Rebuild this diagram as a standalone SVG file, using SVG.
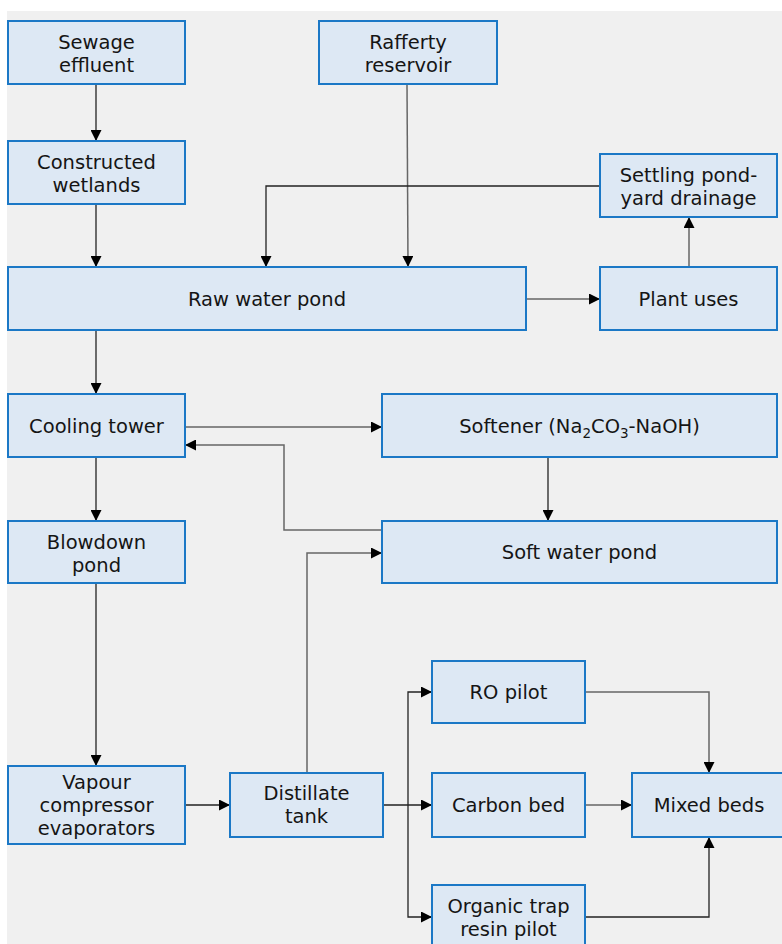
<svg xmlns="http://www.w3.org/2000/svg" width="782" height="944" viewBox="0 0 782 944">
<style>
.box{fill:#dde8f4;stroke:#1b78c6;stroke-width:2}
.t{font-family:"DejaVu Sans",Verdana,sans-serif;font-size:19.5px;fill:#151515;text-anchor:middle}
.c{fill:none;stroke:#222;stroke-width:1.3}
.g{fill:none;stroke:#666;stroke-width:1.5}
</style>
<defs>
<marker id="ah" viewBox="0 0 10 10" refX="10" refY="5" markerWidth="11" markerHeight="11" markerUnits="userSpaceOnUse" orient="auto">
<path d="M0,0 L10,5 L0,10 Z" fill="#000"/>
</marker>
</defs>
<rect x="0" y="0" width="782" height="944" fill="#ffffff"/>
<rect x="7" y="11" width="775" height="933" fill="#f0f0f0"/>

<g id="connectors">
<path class="c" d="M96,84 V141" marker-end="url(#ah)"/>
<path class="c" d="M96,204 V267" marker-end="url(#ah)"/>
<path class="g" d="M407,84 L408,267" marker-end="url(#ah)"/>
<path class="c" d="M600,186 H266 V267" marker-end="url(#ah)"/>
<path class="g" d="M526,299 H600" marker-end="url(#ah)"/>
<path class="g" d="M689,267 V217" marker-end="url(#ah)"/>
<path class="c" d="M96,330 V394" marker-end="url(#ah)"/>
<path class="g" d="M185,427 H382" marker-end="url(#ah)"/>
<path class="g" d="M382,530 H284 V445 H185" marker-end="url(#ah)"/>
<path class="c" d="M548,457 V521" marker-end="url(#ah)"/>
<path class="c" d="M96,457 V521" marker-end="url(#ah)"/>
<path class="c" d="M96,583 V766" marker-end="url(#ah)"/>
<path class="c" d="M185,805 H230" marker-end="url(#ah)"/>
<path class="g" d="M307,773 V553 H382" marker-end="url(#ah)"/>
<path class="c" d="M383,805 H432" marker-end="url(#ah)"/>
<path class="c" d="M408,805 V692 H432" marker-end="url(#ah)"/>
<path class="c" d="M408,805 V917 H432" marker-end="url(#ah)"/>
<path class="g" d="M585,692 H709 V773" marker-end="url(#ah)"/>
<path class="g" d="M585,805 H632" marker-end="url(#ah)"/>
<path class="c" d="M585,917 H709 V837" marker-end="url(#ah)"/>
</g>

<g id="sewage"><rect class="box" x="8" y="21" width="177" height="63"/><text class="t" x="96.5" y="49">Sewage</text><text class="t" x="96.5" y="72">effluent</text></g>
<g id="wetlands"><rect class="box" x="8" y="141" width="177" height="63"/><text class="t" x="96.5" y="169">Constructed</text><text class="t" x="96.5" y="192">wetlands</text></g>
<g id="rafferty"><rect class="box" x="319" y="21" width="178" height="63"/><text class="t" x="408" y="49">Rafferty</text><text class="t" x="408" y="72">reservoir</text></g>
<g id="settling"><rect class="box" x="600" y="154" width="177" height="63"/><text class="t" x="688.5" y="182">Settling pond-</text><text class="t" x="688.5" y="205">yard drainage</text></g>
<g id="raw"><rect class="box" x="8" y="267" width="518" height="63"/><text class="t" x="267" y="306">Raw water pond</text></g>
<g id="plant"><rect class="box" x="600" y="267" width="177" height="63"/><text class="t" x="688.5" y="306">Plant uses</text></g>
<g id="cooling"><rect class="box" x="8" y="394" width="177" height="63"/><text class="t" x="96.5" y="433">Cooling tower</text></g>
<g id="softener"><rect class="box" x="382" y="394" width="395" height="63"/><text class="t" x="579.5" y="433">Softener (Na<tspan font-size="13.5" dy="5">2</tspan><tspan dy="-5">CO</tspan><tspan font-size="13.5" dy="5">3</tspan><tspan dy="-5">-NaOH)</tspan></text></g>
<g id="blowdown"><rect class="box" x="8" y="521" width="177" height="62"/><text class="t" x="96.5" y="549">Blowdown</text><text class="t" x="96.5" y="572">pond</text></g>
<g id="softwater"><rect class="box" x="382" y="521" width="395" height="62"/><text class="t" x="579.5" y="559">Soft water pond</text></g>
<g id="vapour"><rect class="box" x="8" y="766" width="177" height="78"/><text class="t" x="96.5" y="789">Vapour</text><text class="t" x="96.5" y="812">compressor</text><text class="t" x="96.5" y="835">evaporators</text></g>
<g id="distillate"><rect class="box" x="230" y="773" width="153" height="64"/><text class="t" x="306.5" y="800">Distillate</text><text class="t" x="306.5" y="823">tank</text></g>
<g id="ro"><rect class="box" x="432" y="661" width="153" height="62"/><text class="t" x="508.5" y="699">RO pilot</text></g>
<g id="carbon"><rect class="box" x="432" y="773" width="153" height="64"/><text class="t" x="508.5" y="812">Carbon bed</text></g>
<g id="organic"><rect class="box" x="432" y="885" width="153" height="64"/><text class="t" x="508.5" y="913">Organic trap</text><text class="t" x="508.5" y="936">resin pilot</text></g>
<g id="mixed"><rect class="box" x="632" y="773" width="154" height="64"/><text class="t" x="709" y="812">Mixed beds</text></g>
</svg>
